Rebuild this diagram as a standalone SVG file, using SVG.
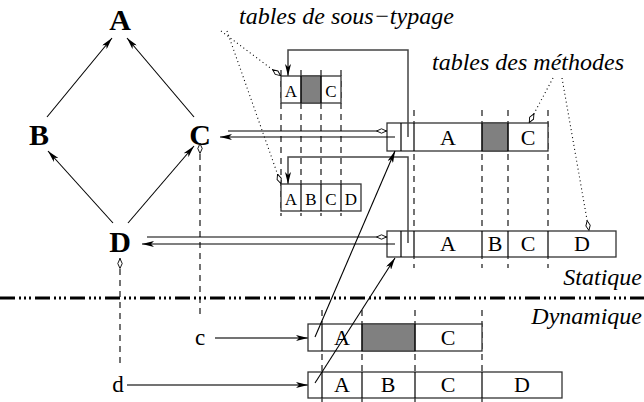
<svg xmlns="http://www.w3.org/2000/svg" width="644" height="402" viewBox="0 0 644 402">
<defs>
<style>
.cls{font-family:"Liberation Serif",serif;font-weight:bold;font-size:30px;text-anchor:middle}
.lbl{font-family:"Liberation Serif",serif;font-style:italic;font-size:24px}
.cell{font-family:"Liberation Serif",serif;font-size:22px;text-anchor:middle}
.scell{font-family:"Liberation Serif",serif;font-size:17px;text-anchor:middle}
.var{font-family:"Liberation Serif",serif;font-size:23px;text-anchor:middle}
.tbl{fill:#fff;stroke:#333;stroke-width:1.3}
.div{stroke:#000;stroke-width:1.2;fill:none}
.gray{fill:#808080;stroke:#333;stroke-width:1}
.dash{stroke:#000;stroke-width:1.1;stroke-dasharray:6 5;fill:none}
.dot{stroke:#000;stroke-width:1.1;stroke-dasharray:1 3;fill:none}
.ln{stroke:#000;stroke-width:1.1;fill:none}
.route{stroke:#444;stroke-width:1.5;fill:none}
</style>
<marker id="ah" viewBox="0 0 12 6" refX="12" refY="3" markerWidth="12" markerHeight="6" orient="auto" markerUnits="userSpaceOnUse"><path d="M0,0 L12,3 L0,6 L3,3 z" fill="#000"/></marker>
<marker id="dia" viewBox="0 0 12 6" refX="12" refY="3" markerWidth="11" markerHeight="6" orient="auto-start-reverse" markerUnits="userSpaceOnUse"><path d="M0.6,3 L6,0.6 L11.4,3 L6,5.4 z" fill="#fff" stroke="#000" stroke-width="1"/></marker>
</defs>

<!-- class graph -->
<g id="A"><text class="cls" x="120" y="30">A</text></g>
<g id="B"><text class="cls" x="39" y="145">B</text></g>
<g id="C"><text class="cls" x="200" y="145">C</text></g>
<g id="D"><text class="cls" x="120" y="252">D</text></g>

<!-- labels -->
<g id="labels">
<text class="lbl" x="239" y="24">tables de sous−typage</text>
<text class="lbl" x="432" y="70">tables des méthodes</text>
<text class="lbl" x="642" y="285" text-anchor="end">Statique</text>
<text class="lbl" x="642" y="324" text-anchor="end">Dynamique</text>
</g>

<!-- dashed column guides -->
<g id="guides">
<path class="dash" d="M281,70V216 M301,70V216 M321,70V216 M341,70V216"/>
<path class="dash" d="M414,110V268 M482,110V268 M508,110V268 M548,110V268"/>
<path class="dash" d="M322,310V402 M362,310V402 M415,310V402 M482,310V402"/>
</g>

<!-- subtype tables -->
<g id="subC">
<rect class="tbl" x="281" y="76" width="60" height="27"/>
<rect class="gray" x="301" y="76" width="20" height="27"/>
<path class="div" d="M301,76V103 M321,76V103"/>
<text class="scell" x="291" y="97">A</text>
<text class="scell" x="331" y="97">C</text>
</g>
<g id="subD">
<rect class="tbl" x="281" y="184" width="80" height="27"/>
<path class="div" d="M301,184V211 M321,184V211 M341,184V211"/>
<text class="scell" x="291" y="205">A</text>
<text class="scell" x="311" y="205">B</text>
<text class="scell" x="331" y="205">C</text>
<text class="scell" x="351" y="205">D</text>
</g>

<!-- static method tables -->
<g id="methC">
<rect class="tbl" x="387" y="123" width="161" height="28"/>
<rect class="gray" x="482" y="123" width="26" height="28"/>
<path class="div" d="M401,123V151 M414,123V151 M482,123V151 M508,123V151"/>
<text class="cell" x="448" y="145">A</text>
<text class="cell" x="528" y="145">C</text>
</g>
<g id="methD">
<rect class="tbl" x="387" y="231" width="229" height="26"/>
<path class="div" d="M401,231V257 M414,231V257 M482,231V257 M508,231V257 M548,231V257"/>
<text class="cell" x="448" y="251">A</text>
<text class="cell" x="495" y="251">B</text>
<text class="cell" x="528" y="251">C</text>
<text class="cell" x="582" y="251">D</text>
</g>

<!-- dynamic objects -->
<g id="objc">
<text class="var" x="200" y="345">c</text>
<rect class="tbl" x="308" y="324" width="174" height="27"/>
<rect class="gray" x="362" y="324" width="53" height="27"/>
<path class="div" d="M322,324V351 M362,324V351 M415,324V351"/>
<text class="cell" x="342" y="345">A</text>
<text class="cell" x="448" y="345">C</text>
</g>
<g id="objd">
<text class="var" x="118" y="392">d</text>
<rect class="tbl" x="308" y="372" width="254" height="26"/>
<path class="div" d="M322,372V398 M362,372V398 M415,372V398 M482,372V398"/>
<text class="cell" x="342" y="392">A</text>
<text class="cell" x="388" y="392">B</text>
<text class="cell" x="448" y="392">C</text>
<text class="cell" x="522" y="392">D</text>
</g>

<!-- separator -->
<path d="M0,298H644" stroke="#000" stroke-width="3" stroke-dasharray="15 4 2 3 2 3 2 4" fill="none"/>

<!-- connectors -->
<g id="connectors">
<path class="ln" marker-end="url(#ah)" d="M47,117L112,38"/>
<path class="ln" marker-end="url(#ah)" d="M194,117L127,38"/>
<path class="ln" marker-end="url(#ah)" d="M113,223L48,151"/>
<path class="ln" marker-end="url(#ah)" d="M128,223L194,146"/>

<path class="ln" marker-end="url(#dia)" d="M228,131H387"/>
<path class="ln" marker-end="url(#ah)" d="M395,137H220"/>
<path class="ln" marker-end="url(#dia)" d="M147,237H387"/>
<path class="ln" marker-end="url(#ah)" d="M395,244H142"/>

<path class="route" marker-end="url(#ah)" d="M408,137V50H288V76"/>
<path class="route" marker-end="url(#ah)" d="M408,243V157H288V184"/>

<path class="dash" marker-start="url(#dia)" d="M200,143V318"/>
<path class="dash" marker-start="url(#dia)" d="M120,258V367"/>

<path class="dot" marker-end="url(#dia)" d="M221,31L281,76"/>
<path class="dot" marker-end="url(#dia)" d="M227,31L281,184"/>
<path class="dot" marker-end="url(#dia)" d="M553,78L529,123"/>
<path class="dot" marker-end="url(#dia)" d="M562,78L589,231"/>

<path class="route" marker-end="url(#ah)" d="M215,338H308"/>
<path class="route" marker-end="url(#ah)" d="M127,385H308"/>
<path class="ln" marker-end="url(#ah)" d="M315,337L395,151"/>
<path class="ln" marker-end="url(#ah)" d="M315,383L395,258"/>
</g>
</svg>
